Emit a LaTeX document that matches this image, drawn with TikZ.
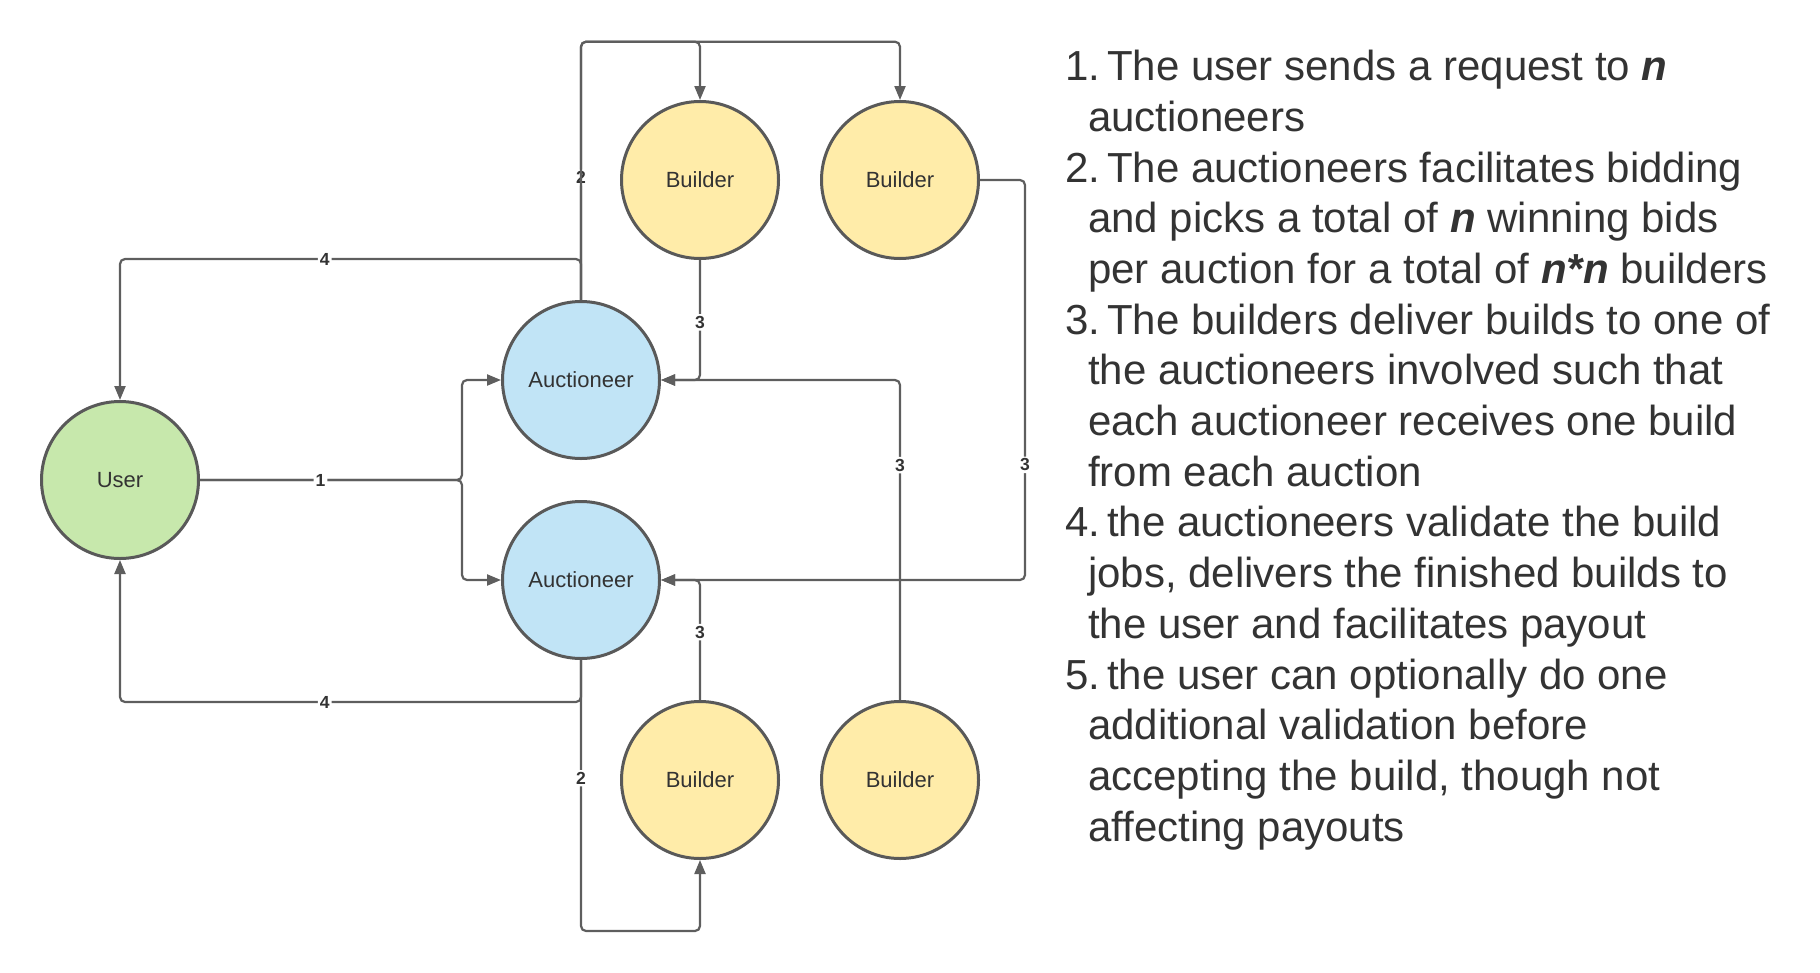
\documentclass[tikz,border=0pt]{standalone}
\usepackage{fontspec}
\setmainfont{Liberation Sans}
\usepackage{tikz}
\usetikzlibrary{arrows.meta,positioning,calc}

\definecolor{lineGray}{HTML}{5E5E5E}
\definecolor{rimGray}{HTML}{595959}
\definecolor{textGray}{HTML}{333333}
\definecolor{userGreen}{HTML}{C7E8AC}
\definecolor{auctBlue}{HTML}{C1E4F6}
\definecolor{buildYellow}{HTML}{FFECA9}

\newcommand{\stepnum}[1]{\makebox[42pt][l]{#1}}
\newcommand{\stepcont}{\hspace*{23pt}}

\begin{document}
\begin{tikzpicture}[
    x=1pt, y=-1pt,
    node distance=200pt, on grid,
    font=\fontsize{22}{26}\selectfont, text=textGray,
    circNode/.style={
        circle, draw=rimGray, line width=3pt, minimum size=157pt, inner sep=0pt
    },
    userNode/.style={circNode, fill=userGreen},
    auctNode/.style={circNode, fill=auctBlue},
    buildNode/.style={circNode, fill=buildYellow},
    flowArrow/.style={
        -{Triangle[length=14pt, width=11pt]}, line width=2.2pt, draw=lineGray,
        rounded corners=5pt
    },
    numLabel/.style={
        fill=white, inner sep=2pt, text=textGray,
        font=\fontsize{17.5}{17.5}\selectfont\bfseries
    }
]
\useasboundingbox (0,0) rectangle (1820,972);

% Participants
\node[userNode] (user) at (120,480) {User};
\node[auctNode, above right=100pt and 461pt of user] (auctTop) {Auctioneer};
\node[auctNode, below=of auctTop] (auctBot) {Auctioneer};

\node[buildNode, above right=200pt and 119pt of auctTop] (buildTL) {Builder};
\node[buildNode, right=of buildTL] (buildTR) {Builder};
\node[buildNode, below right=200pt and 119pt of auctBot] (buildBL) {Builder};
\node[buildNode, right=of buildBL] (buildBR) {Builder};

% Rails for the routed connectors
\coordinate (split) at (462,480);
\coordinate (topRail) at (0,41.7);
\coordinate (botRail) at (0,931);
\coordinate (rightRail) at (1025,0);

% 1: request to the auctioneers
\draw[flowArrow] (user.east) -- (split) |- (auctBot.west);
\draw[flowArrow] (user.east) -- node[numLabel, pos=0.46] {1} (split) |- (auctTop.west);

% 2: bidding towards the builders
\draw[flowArrow] (auctTop.north) |- node[numLabel, pos=0.237] {2} (buildTL.north |- topRail) -- (buildTL.north);
\draw[flowArrow] (auctTop.north) |- (buildTR.north |- topRail) -- (buildTR.north);
\draw[flowArrow] (auctBot.south) |- node[numLabel, pos=0.218] {2} (buildBL.south |- botRail) -- (buildBL.south);

% 3: builds delivered back
\draw[flowArrow] (buildTL.south) |- node[numLabel, pos=0.26] {3} (auctTop.east);
\draw[flowArrow] (buildBR.north) |- node[numLabel, pos=0.367] {3} (auctTop.east);
\draw[flowArrow] (buildTR.east) -- (buildTR.east -| rightRail) |- node[numLabel, pos=0.356] {3} (auctBot.east);
\draw[flowArrow] (buildBL.north) |- node[numLabel, pos=0.283] {3} (auctBot.east);

% 4: finished builds to the user
\draw[flowArrow] (auctTop.north) -- ++(0,-41) -| node[numLabel, pos=0.278] {4} (user.north);
\draw[flowArrow] (auctBot.south) -- ++(0,42) -| node[numLabel, pos=0.278] {4} (user.south);

% Right: step list
\node[anchor=north west, align=left, inner sep=0pt, font=\fontsize{42}{50.7}\selectfont] (steps) at (1065,50) {
    \stepnum{1.}The user sends a request to \textbf{\textit{n}}\\
    \stepcont auctioneers\\
    \stepnum{2.}The auctioneers facilitates bidding\\
    \stepcont and picks a total of \textbf{\textit{n}} winning bids\\
    \stepcont per auction for a total of \textbf{\textit{n*n}} builders\\
    \stepnum{3.}The builders deliver builds to one of\\
    \stepcont the auctioneers involved such that\\
    \stepcont each auctioneer receives one build\\
    \stepcont from each auction\\
    \stepnum{4.}the auctioneers validate the build\\
    \stepcont jobs, delivers the finished builds to\\
    \stepcont the user and facilitates payout\\
    \stepnum{5.}the user can optionally do one\\
    \stepcont additional validation before\\
    \stepcont accepting the build, though not\\
    \stepcont affecting payouts
};

\end{tikzpicture}
\end{document}
